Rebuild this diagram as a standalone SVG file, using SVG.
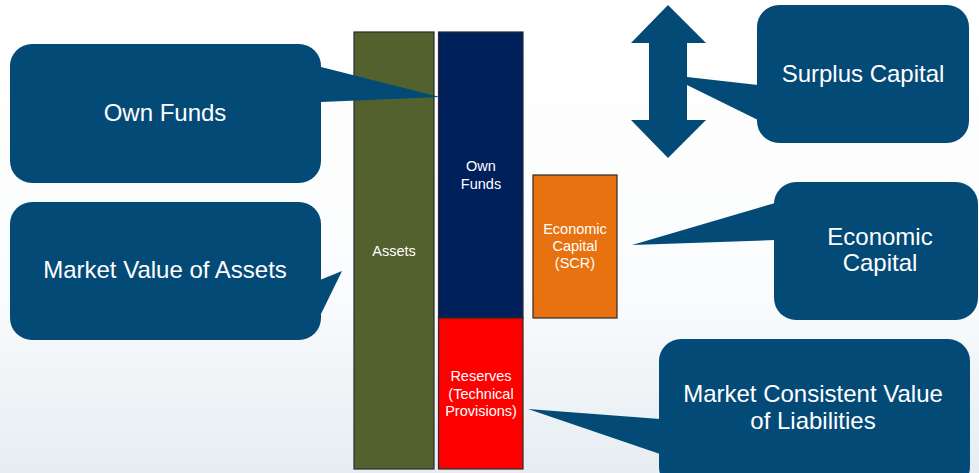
<svg xmlns="http://www.w3.org/2000/svg" width="979" height="473" viewBox="0 0 979 473">
<defs>
<linearGradient id="bg" x1="0" y1="0" x2="0" y2="1">
<stop offset="0" stop-color="#ffffff"/>
<stop offset="0.6" stop-color="#fbfcfd"/>
<stop offset="1" stop-color="#e6edf2"/>
</linearGradient>
<style>
.call{fill:#044a77}
.ct{fill:#ffffff;font-family:"Liberation Sans",Arial,sans-serif;font-size:24px;text-anchor:middle}
.bt{fill:#ffffff;font-family:"Liberation Sans",Arial,sans-serif;font-size:14.5px;text-anchor:middle}
.bar{stroke:#2a2a2a;stroke-width:1.2}
</style>
</defs>
<rect width="979" height="473" fill="url(#bg)"/>

<g id="assets">
<rect class="bar" x="354" y="32" width="80" height="437" fill="#53612e"/>
<text class="bt" x="394" y="256">Assets</text>
</g>
<g id="own-funds-bar">
<rect class="bar" x="438.5" y="32" width="84.5" height="286" fill="#00205c"/>
<text class="bt" x="481" y="171">Own</text>
<text class="bt" x="481" y="189">Funds</text>
</g>
<g id="reserves">
<rect class="bar" x="438.5" y="318" width="84.5" height="151" fill="#ff0000"/>
<text class="bt" x="481" y="381">Reserves</text>
<text class="bt" x="481" y="399">(Technical</text>
<text class="bt" x="481" y="416">Provisions)</text>
</g>
<g id="economic-capital-bar">
<rect class="bar" x="533" y="175" width="84" height="143" fill="#e8720f"/>
<text class="bt" x="575" y="234">Economic</text>
<text class="bt" x="575" y="251">Capital</text>
<text class="bt" x="575" y="268">(SCR)</text>
</g>
<g id="surplus-arrow">
<polygon class="call" points="668,5 706,43 687,43 687,120 706,120 668,158 631,120 649,120 649,43 631,43"/>
</g>

<g id="connectors">
<polygon class="call" points="321,67 440,97 321,102"/>
<polygon class="call" points="320,280 342,271 320,316"/>
<polygon class="call" points="758,85 687,77 687,85 758,120"/>
<polygon class="call" points="775,203 632,245 775,240"/>
<polygon class="call" points="660,419 528,409 660,454"/>
</g>

<g id="own-funds-callout">
<rect class="call" x="10" y="44" width="311" height="139" rx="22"/>
<text class="ct" x="165" y="121">Own Funds</text>
</g>
<g id="market-value-callout">
<rect class="call" x="10" y="202" width="311" height="138" rx="22"/>
<text class="ct" x="165" y="278">Market Value of Assets</text>
</g>
<g id="surplus-callout">
<rect class="call" x="757" y="5" width="212" height="138" rx="22"/>
<text class="ct" x="863" y="82">Surplus Capital</text>
</g>
<g id="economic-callout">
<rect class="call" x="774" y="182" width="204" height="138" rx="22"/>
<text class="ct" x="880" y="245">Economic</text>
<text class="ct" x="880" y="271">Capital</text>
</g>
<g id="market-consistent-callout">
<rect class="call" x="659" y="339" width="311" height="150" rx="22"/>
<text class="ct" x="813" y="402">Market Consistent Value</text>
<text class="ct" x="813" y="429">of Liabilities</text>
</g>
</svg>
